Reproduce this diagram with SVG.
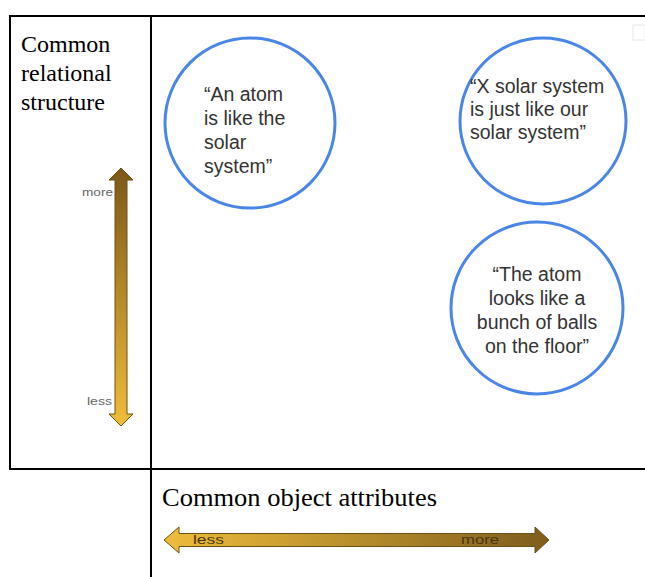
<svg xmlns="http://www.w3.org/2000/svg" width="645" height="577" viewBox="0 0 645 577">
<style>
.grid{stroke:#000;stroke-width:2;fill:none}
.circ{fill:#fff;stroke:#4a86e8;stroke-width:3}
.q{font-family:"Liberation Sans",Arial,sans-serif;font-size:19.5px;fill:#333}
.serif{font-family:"Liberation Serif","Times New Roman",serif;fill:#000}
.lbl{font-family:"Liberation Sans",Arial,sans-serif;font-size:10px;fill:#666}
.lbl2{font-family:"Liberation Sans",Arial,sans-serif;font-size:13px;fill:#4a3510}
.arr{stroke:#6b5217;stroke-width:1}
</style>
<defs>
<linearGradient id="gv" x1="0" y1="0" x2="0" y2="1">
<stop offset="0" stop-color="#7a5818"/>
<stop offset="1" stop-color="#f0bd3a"/>
</linearGradient>
<linearGradient id="gh" x1="0" y1="0" x2="1" y2="0">
<stop offset="0" stop-color="#efbd3c"/>
<stop offset="1" stop-color="#7e5d1c"/>
</linearGradient>
</defs>
<g id="table">
<line class="grid" x1="10" y1="16" x2="645" y2="16"/>
<line class="grid" x1="10" y1="15" x2="10" y2="469"/>
<line class="grid" x1="151" y1="15" x2="151" y2="577"/>
<line class="grid" x1="9" y1="469" x2="645" y2="469"/>
<rect x="633" y="25" width="12" height="15" fill="none" stroke="#e6e6e6" stroke-width="1"/>
</g>
<g id="ylabel">
<text class="serif" font-size="24" x="21" y="52">Common</text>
<text class="serif" font-size="24" x="21" y="81">relational</text>
<text class="serif" font-size="24" x="21" y="110">structure</text>
</g>
<g id="yaxis">
<path class="arr" fill="url(#gv)" d="M121,168 L133,180 L127,180 L127,414 L133,414 L121,426 L109,414 L115,414 L115,180 L109,180 Z"/>
<text class="lbl" x="82" y="196" textLength="31" lengthAdjust="spacingAndGlyphs">more</text>
<text class="lbl" x="87" y="405" textLength="25" lengthAdjust="spacingAndGlyphs">less</text>
</g>
<g id="xlabel">
<text class="serif" font-size="26" x="162" y="506" textLength="275" lengthAdjust="spacingAndGlyphs">Common object attributes</text>
</g>
<g id="xaxis">
<path class="arr" fill="url(#gh)" d="M164,540 L179,527 L179,533.5 L535,533.5 L535,527 L549,540 L535,553 L535,546.5 L179,546.5 L179,553 Z"/>
<text class="lbl2" x="193" y="544" textLength="31" lengthAdjust="spacingAndGlyphs">less</text>
<text class="lbl2" x="461" y="544" textLength="38" lengthAdjust="spacingAndGlyphs">more</text>
</g>
<g id="n1">
<circle class="circ" cx="250" cy="123" r="85"/>
<text class="q" x="204" y="101">“An atom</text>
<text class="q" x="204" y="125">is like the</text>
<text class="q" x="204" y="149">solar</text>
<text class="q" x="204" y="173">system”</text>
</g>
<g id="n2">
<circle class="circ" cx="543" cy="121" r="83"/>
<text class="q" x="470" y="93">“X solar system</text>
<text class="q" x="470" y="116">is just like our</text>
<text class="q" x="470" y="139">solar system”</text>
</g>
<g id="n3">
<circle class="circ" cx="537" cy="308" r="86"/>
<text class="q" text-anchor="middle" x="537" y="281">“The atom</text>
<text class="q" text-anchor="middle" x="537" y="305">looks like a</text>
<text class="q" text-anchor="middle" x="537" y="329">bunch of balls</text>
<text class="q" text-anchor="middle" x="537" y="353">on the floor”</text>
</g>
</svg>
